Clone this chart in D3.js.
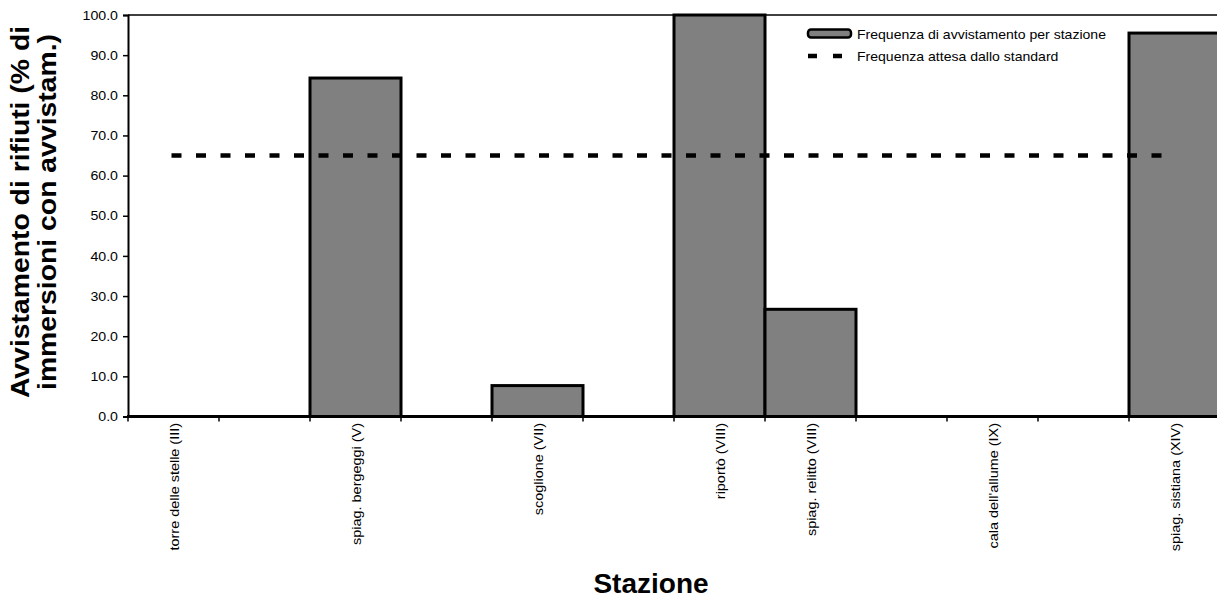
<!DOCTYPE html>
<html>
<head>
<meta charset="utf-8">
<script src="https://cdn.jsdelivr.net/npm/d3@7"></script>
<style>
  html, body { margin: 0; padding: 0; background: #fff; }
  svg { display: block; }
  text { font-family: "Liberation Sans", Arial, sans-serif; fill: #000; }
</style>
</head>
<body>
<svg id="chart" width="1217" height="603"></svg>
<script>
// Stations along the x axis (blank entries are unlabeled slots)
const stations = [
  "torre delle stelle (III)", "", "spiag. bergeggi (V)", "", "scoglione (VII)", "",
  "riportò (VIII)", "spiag. relitto (VIII)", "", "cala dell'allume (IX)", "", "spiag. sistiana (XIV)"
];
// Sighting frequency per station (% of dives with sightings)
const frequency = [0, null, 84.3, null, 7.7, null, 100, 26.7, null, 0, null, 95.5];
// Expected frequency from the standard
const expected = [65, null, 65, null, 65, null, 65, 65, null, 65, null, 65];
// Y axis ticks
const yTicks = [0, 10, 20, 30, 40, 50, 60, 70, 80, 90, 100];

const legendLabels = ["Frequenza di avvistamento per stazione", "Frequenza attesa dallo standard"];
const yTitleLines = ["Avvistamento di rifiuti (% di", "immersioni con avvistam.)"];
const xTitle = "Stazione";

const svg = d3.select("#chart");
const plotLeft = 128, plotRight = 1220, plotTop = 15, plotBottom = 416.5;

// widen text slightly along its baseline
function stretch(sel, k) {
  sel.each(function () {
    const len = this.getComputedTextLength();
    d3.select(this).attr("textLength", len * k).attr("lengthAdjust", "spacingAndGlyphs");
  });
}

const x = d3.scaleBand().domain(d3.range(stations.length)).range([plotLeft, plotRight]).padding(0);
const y = d3.scaleLinear().domain([0, 100]).range([plotBottom, plotTop]);

// top border of plot area
svg.append("line")
  .attr("x1", plotLeft).attr("x2", 1217).attr("y1", plotTop).attr("y2", plotTop)
  .attr("stroke", "#000").attr("stroke-width", 1.5);

// bars
const barData = frequency.map((v, i) => ({ i, v })).filter(d => d.v !== null && d.v > 0);
svg.append("g").selectAll("rect").data(barData).join("rect")
  .attr("x", d => x(d.i))
  .attr("y", d => y(d.v))
  .attr("width", x.bandwidth())
  .attr("height", d => y(0) - y(d.v))
  .attr("fill", "#808080")
  .attr("stroke", "#000")
  .attr("stroke-width", 3);

// expected standard line
const lineData = expected.map((v, i) => ({ i, v })).filter(d => d.v !== null);
svg.append("path")
  .datum(lineData)
  .attr("d", d3.line().x(d => x(d.i) + x.bandwidth() / 2 - 2).y(d => y(d.v)))
  .attr("fill", "none")
  .attr("stroke", "#000")
  .attr("stroke-width", 4.5)
  .attr("stroke-dasharray", "10,14.5");

// y axis
const yAxis = d3.axisLeft(y).tickValues(yTicks).tickFormat(d3.format(".1f")).tickSize(5).tickPadding(5);
const gy = svg.append("g").attr("transform", `translate(${plotLeft},0)`).call(yAxis);
gy.select(".domain").attr("stroke-width", 2);
gy.selectAll(".tick line").attr("stroke-width", 1.5);
gy.selectAll(".tick text").style("font-size", "13px").style("font-family", "Liberation Sans, Arial, sans-serif");
stretch(gy.selectAll(".tick text"), 1.09);

// x axis: ticks at band boundaries
const boundaries = d3.range(stations.length).map(i => x(i));
const gx = svg.append("g");
gx.append("line")
  .attr("x1", plotLeft - 1).attr("x2", 1217).attr("y1", plotBottom).attr("y2", plotBottom)
  .attr("stroke", "#000").attr("stroke-width", 3);
gx.selectAll("line.tk").data(boundaries).join("line")
  .attr("class", "tk")
  .attr("x1", d => d).attr("x2", d => d)
  .attr("y1", plotBottom).attr("y2", plotBottom + 5)
  .attr("stroke", "#000").attr("stroke-width", 1.5);
const xLabels = gx.selectAll("text").data(stations.map((s, i) => ({ s, i })).filter(d => d.s)).join("text")
  .attr("transform", d => `translate(${x(d.i) + x.bandwidth() / 2 + 5},${plotBottom + 6.5}) rotate(-90)`)
  .attr("text-anchor", "end")
  .style("font-size", "13px")
  .text(d => d.s);
stretch(xLabels, 1.11);

// axis titles
const yTitle = svg.append("g").attr("transform", "translate(0,212)");
const yTitleText = yTitle.selectAll("text").data(yTitleLines).join("text")
  .attr("transform", (d, i) => `translate(${29 + i * 27},0) rotate(-90)`)
  .attr("text-anchor", "middle")
  .style("font-size", "26px")
  .style("font-weight", "bold")
  .text(d => d);
stretch(yTitleText, 1.09);

svg.append("text")
  .attr("x", 651).attr("y", 593)
  .attr("text-anchor", "middle")
  .style("font-size", "28px")
  .style("font-weight", "bold")
  .text(xTitle);

// legend
const lg = svg.append("g");
lg.append("rect")
  .attr("x", 808).attr("y", 29.5).attr("width", 43).attr("height", 8)
  .attr("rx", 3)
  .attr("fill", "#808080").attr("stroke", "#000").attr("stroke-width", 2.5);
lg.append("line")
  .attr("x1", 808).attr("x2", 842).attr("y1", 56).attr("y2", 56)
  .attr("stroke", "#000").attr("stroke-width", 4.5)
  .attr("stroke-dasharray", "9,16");
const lgText = lg.selectAll("text").data(legendLabels).join("text")
  .attr("x", 857)
  .attr("y", (d, i) => 39 + i * 22)
  .style("font-size", "13px")
  .text(d => d);
stretch(lgText, 1.08);
</script>
</body>
</html>
